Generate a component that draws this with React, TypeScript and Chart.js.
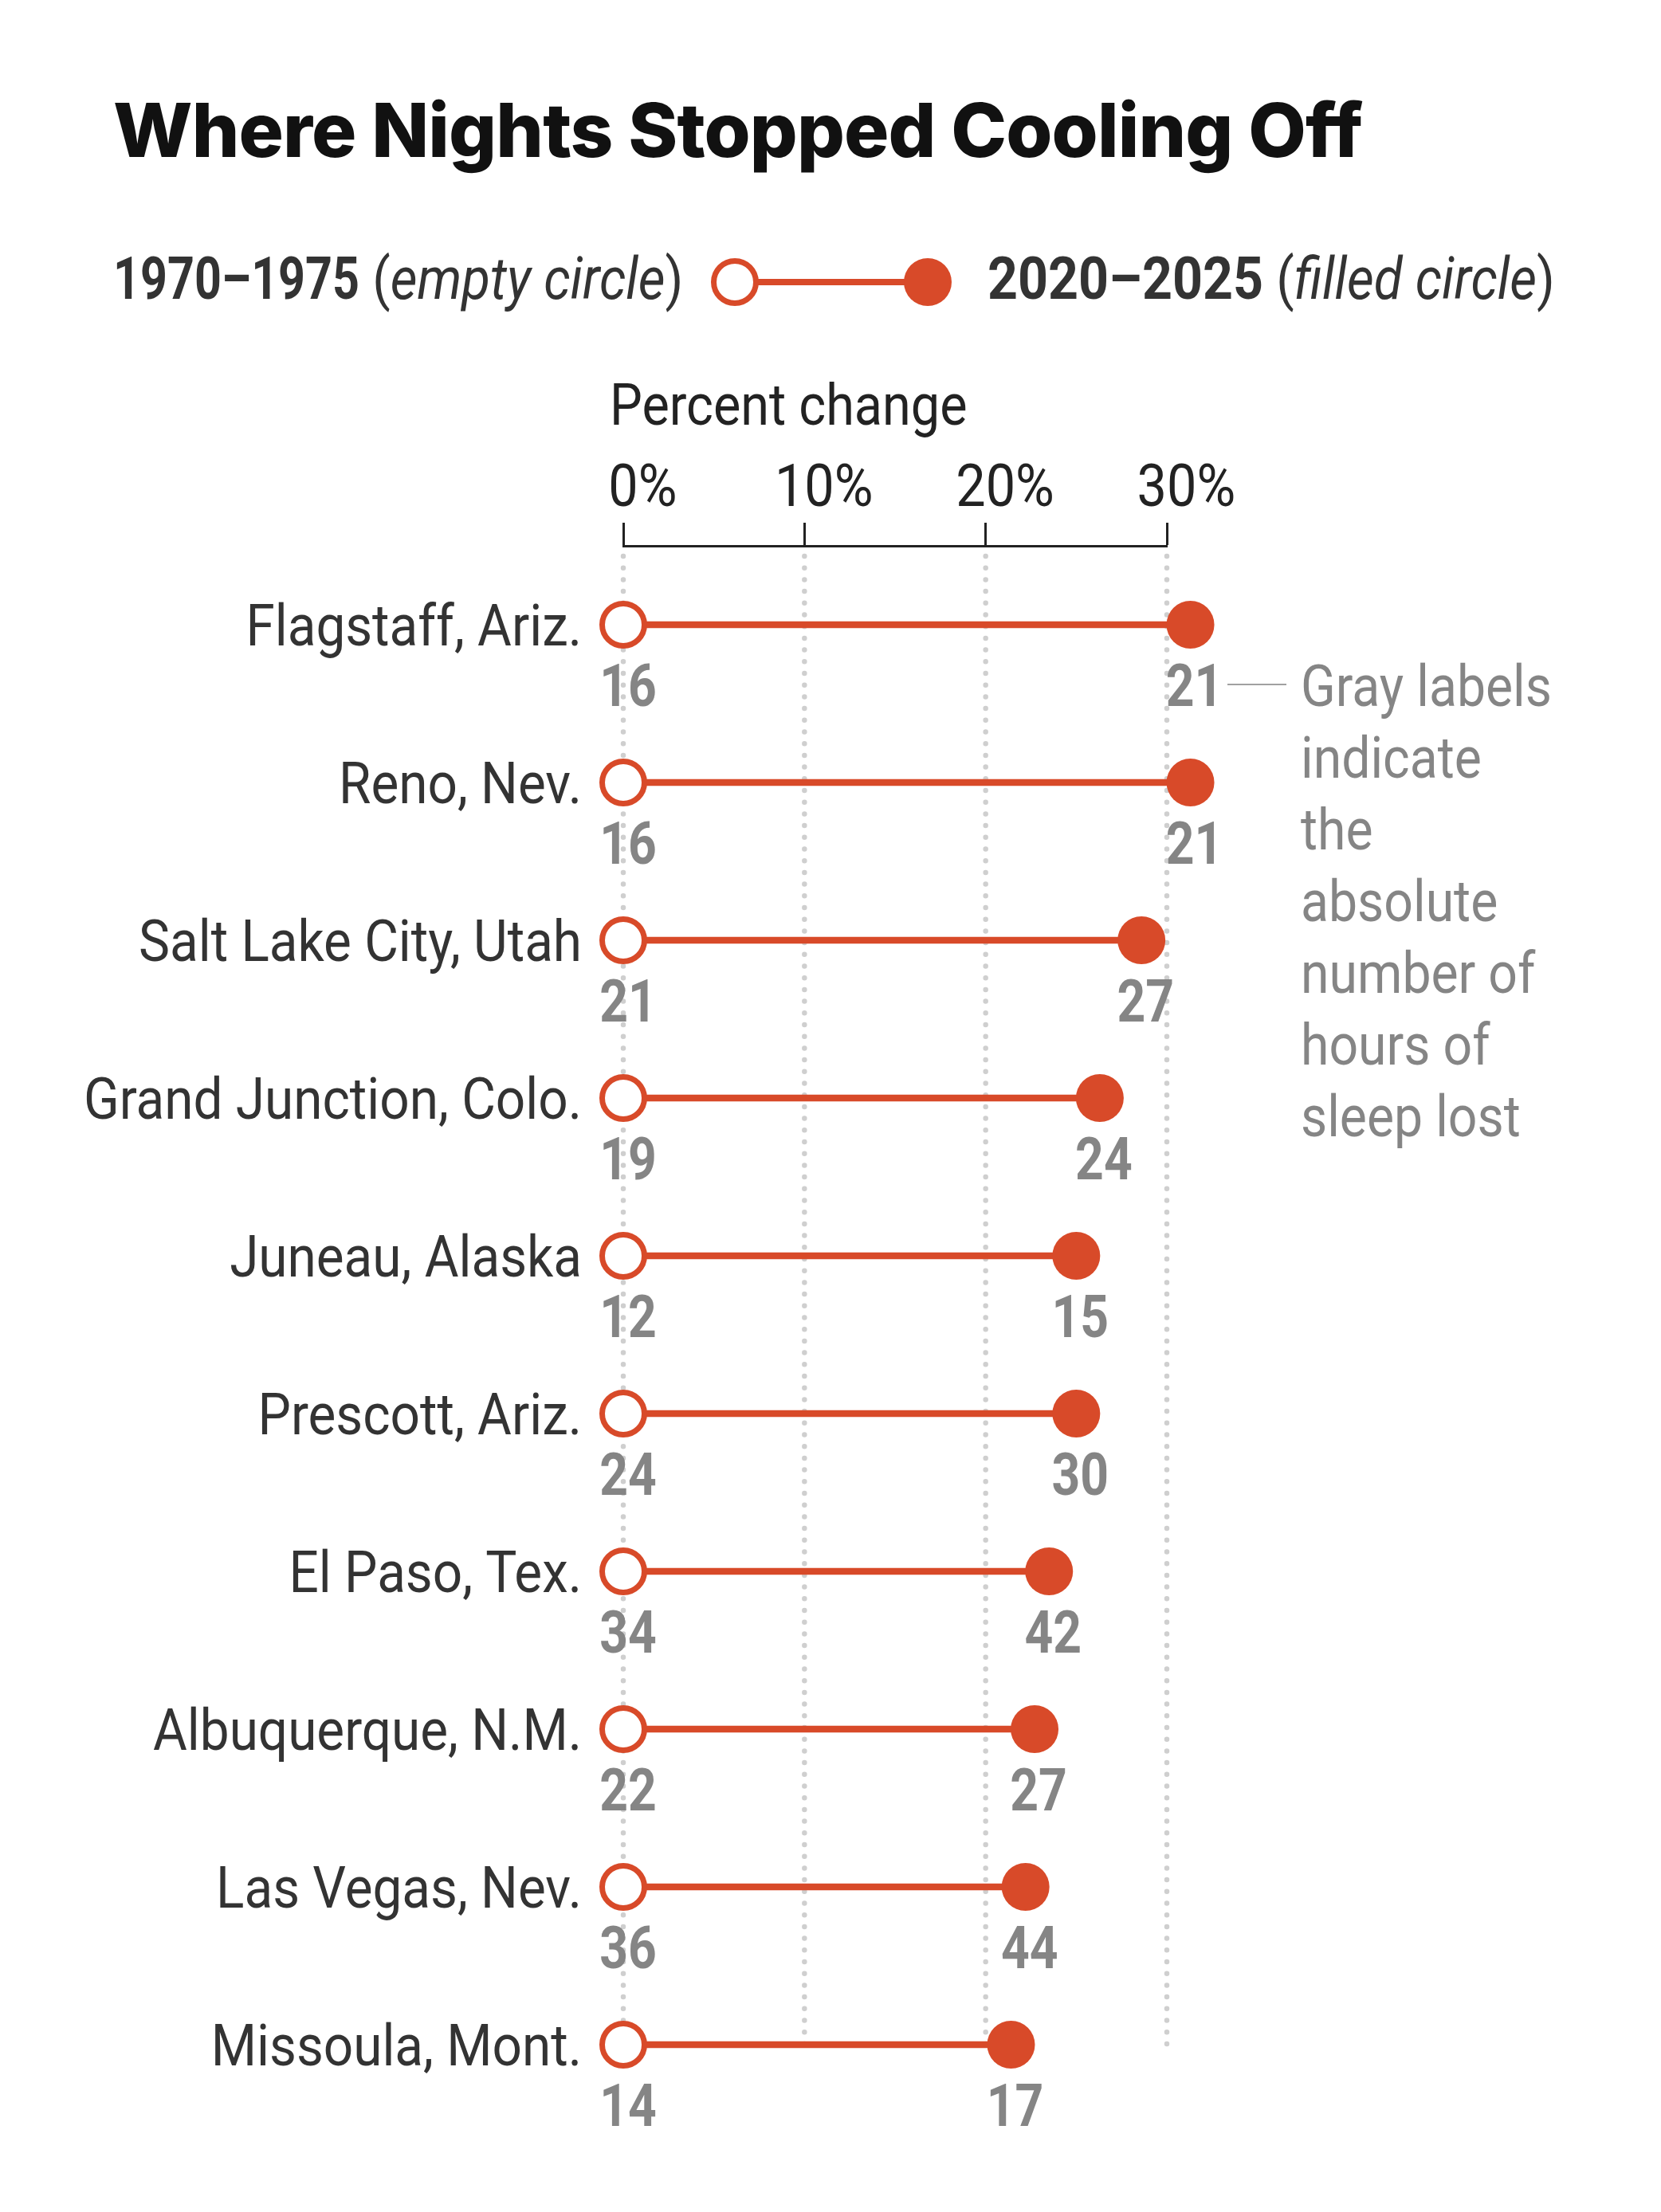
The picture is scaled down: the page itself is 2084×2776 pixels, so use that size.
import { useEffect, useRef } from 'react';
import { Chart, registerables } from 'chart.js';

Chart.register(...registerables);

// Cities, ordered by the size of the change
const cities = [
  'Flagstaff, Ariz.',
  'Reno, Nev.',
  'Salt Lake City, Utah',
  'Grand Junction, Colo.',
  'Juneau, Alaska',
  'Prescott, Ariz.',
  'El Paso, Tex.',
  'Albuquerque, N.M.',
  'Las Vegas, Nev.',
  'Missoula, Mont.',
];

// Hours of sleep lost, 1970–1975 and 2020–2025
const hoursEarly = [16, 16, 21, 19, 12, 24, 34, 22, 36, 14];
const hoursRecent = [21, 21, 27, 24, 15, 30, 42, 27, 44, 17];

// Percent change (the 1970–1975 period is the 0% baseline)
const changeEarly = [0, 0, 0, 0, 0, 0, 0, 0, 0, 0];
const changeRecent = [31.3, 31.3, 28.6, 26.3, 25.0, 25.0, 23.5, 22.7, 22.2, 21.4];

const xTickValues = [0, 10, 20, 30];

const noteLines = ['Gray labels', 'indicate', 'the', 'absolute', 'number of', 'hours of', 'sleep lost'];

const ORANGE = '#d84a29';
const GRAY = '#858585';
const DOT = '#cfcfcf';
const DARK = '#333333';
const TEXT_FONT = "Roboto, 'Liberation Sans', sans-serif";
const TITLE_FONT = "Inter, 'Liberation Sans', sans-serif";

type TextOpts = {
  size: number;
  weight?: string;
  style?: string;
  color: string;
  align?: CanvasTextAlign;
  sx: number;
};

// Draws text squeezed horizontally to get a condensed face; returns drawn width
function drawText(ctx: CanvasRenderingContext2D, text: string, x: number, y: number, o: TextOpts) {
  ctx.save();
  ctx.font = `${o.style || 'normal'} ${o.weight || 'normal'} ${o.size}px ${TEXT_FONT}`;
  ctx.fillStyle = o.color;
  ctx.textAlign = o.align || 'left';
  ctx.textBaseline = 'alphabetic';
  const w = ctx.measureText(text).width * o.sx;
  ctx.translate(x, y);
  ctx.scale(o.sx, 1);
  ctx.fillText(text, 0, 0);
  ctx.restore();
  return w;
}

function condenseFactor(ctx: CanvasRenderingContext2D, sample: string, target: number, font: string) {
  ctx.save();
  ctx.font = font;
  const w = ctx.measureText(sample).width;
  ctx.restore();
  return target / w;
}

const decorPlugin = {
  id: 'dumbbellDecor',
  beforeDatasetsDraw(chart: any) {
    const { ctx, chartArea } = chart;
    const xs = chart.scales.x;
    const ys = chart.scales.y;
    const bottom = ys.getPixelForValue(cities.length - 1);
    ctx.save();
    ctx.strokeStyle = DOT;
    ctx.lineWidth = 6.5;
    ctx.lineCap = 'round';
    ctx.setLineDash([0, 14.7]);
    for (const v of xTickValues) {
      const x = xs.getPixelForValue(v);
      ctx.beginPath();
      ctx.moveTo(x, chartArea.top + 13);
      ctx.lineTo(x, bottom);
      ctx.stroke();
    }
    ctx.restore();
  },
  afterDatasetsDraw(chart: any) {
    const { ctx, chartArea } = chart;
    const xs = chart.scales.x;
    const ys = chart.scales.y;

    const regSx = condenseFactor(ctx, 'Salt Lake City, Utah', 556, `normal normal 73px ${TEXT_FONT}`);
    const boldSx = condenseFactor(ctx, '1970–1975', 309, `normal bold 74px ${TEXT_FONT}`);
    const boldWideSx = condenseFactor(ctx, '2020–2025', 346, `normal bold 74px ${TEXT_FONT}`);

    // City names
    cities.forEach((c, i) => {
      drawText(ctx, c, chartArea.left - 52, ys.getPixelForValue(i) + 26, {
        size: 73, color: DARK, align: 'right', sx: regSx,
      });
    });

    // Axis tick labels: the number is centred on its tick, the % sign hangs right
    xs.ticks.forEach((t: any) => {
      const px = xs.getPixelForValue(t.value);
      ctx.save();
      ctx.font = `normal normal 74px ${TEXT_FONT}`;
      const nw = ctx.measureText(String(t.value)).width * regSx;
      ctx.restore();
      drawText(ctx, `${t.value}%`, px - nw / 2, 635, { size: 74, color: '#222222', sx: regSx });
    });

    // Axis caption
    drawText(ctx, 'Percent change', 765, 533, { size: 72, color: '#222222', sx: regSx });

    // Hour labels under each circle
    cities.forEach((_, i) => {
      const y = ys.getPixelForValue(i) + 102;
      drawText(ctx, String(hoursEarly[i]), xs.getPixelForValue(changeEarly[i]) + 6, y, {
        size: 75, weight: 'bold', color: GRAY, align: 'center', sx: boldSx * 1.04,
      });
      drawText(ctx, String(hoursRecent[i]), xs.getPixelForValue(changeRecent[i]) + 5, y, {
        size: 75, weight: 'bold', color: GRAY, align: 'center', sx: boldSx * 1.04,
      });
    });

    // Side note about the gray labels
    const firstBase = ys.getPixelForValue(0) + 102;
    noteLines.forEach((line, k) =>
      drawText(ctx, line, 1632, firstBase + k * 90, { size: 73, color: GRAY, sx: regSx * 0.98 }),
    );
    ctx.save();
    ctx.strokeStyle = '#a0a0a0';
    ctx.lineWidth = 2;
    ctx.beginPath();
    ctx.moveTo(1540, firstBase - 27);
    ctx.lineTo(1614, firstBase - 27);
    ctx.stroke();
    ctx.restore();

    // Title
    ctx.save();
    ctx.fillStyle = '#111111';
    ctx.font = `800 94px ${TITLE_FONT}`;
    const title = 'Where Nights Stopped Cooling Off';
    const w = ctx.measureText(title).width;
    (ctx as any).letterSpacing = `${(1568 - w) / (title.length - 1)}px`;
    ctx.fillText(title, 142, 197);
    ctx.restore();

    // Legend
    const ly = 354;
    const base = 375;
    let x = 142;
    x += drawText(ctx, '1970–1975', x, base, { size: 74, weight: 'bold', color: DARK, sx: boldSx });
    x += drawText(ctx, ' (', x, base, { size: 73, color: DARK, sx: regSx });
    x += drawText(ctx, 'empty circle', x, base, { size: 73, style: 'italic', color: DARK, sx: regSx });
    drawText(ctx, ')', x, base, { size: 73, color: DARK, sx: regSx });

    const c1 = 922;
    const c2 = 1164;
    ctx.save();
    ctx.strokeStyle = ORANGE;
    ctx.lineWidth = 8;
    ctx.beginPath();
    ctx.moveTo(c1, ly);
    ctx.lineTo(c2, ly);
    ctx.stroke();
    ctx.fillStyle = '#ffffff';
    ctx.lineWidth = 7;
    ctx.beginPath();
    ctx.arc(c1, ly, 26.5, 0, Math.PI * 2);
    ctx.fill();
    ctx.stroke();
    ctx.fillStyle = ORANGE;
    ctx.beginPath();
    ctx.arc(c2, ly, 30, 0, Math.PI * 2);
    ctx.fill();
    ctx.restore();

    x = 1239;
    x += drawText(ctx, '2020–2025', x, base, { size: 74, weight: 'bold', color: DARK, sx: boldWideSx });
    x += drawText(ctx, ' (', x, base, { size: 73, color: DARK, sx: regSx });
    x += drawText(ctx, 'filled circle', x, base, { size: 73, style: 'italic', color: DARK, sx: regSx });
    drawText(ctx, ')', x, base, { size: 73, color: DARK, sx: regSx });
  },
};

export default function App() {
  const canvasRef = useRef<HTMLCanvasElement | null>(null);

  useEffect(() => {
    document.body.style.margin = '0';
    const canvas = canvasRef.current;
    if (!canvas) return;

    const chart = new Chart(canvas, {
      type: 'bar',
      data: {
        labels: cities,
        datasets: [
          {
            type: 'line',
            label: '1970–1975',
            data: cities.map((c, i) => ({ x: changeEarly[i], y: c })),
            showLine: false,
            pointStyle: 'circle',
            pointRadius: 26.5,
            pointBorderWidth: 7,
            pointBackgroundColor: '#ffffff',
            pointBorderColor: ORANGE,
            clip: false,
            order: 1,
          } as any,
          {
            type: 'line',
            label: '2020–2025',
            data: cities.map((c, i) => ({ x: changeRecent[i], y: c })),
            showLine: false,
            pointStyle: 'circle',
            pointRadius: 30,
            pointBorderWidth: 0,
            pointBackgroundColor: ORANGE,
            pointBorderColor: ORANGE,
            clip: false,
            order: 2,
          } as any,
          {
            type: 'bar',
            label: 'change',
            data: cities.map((_, i) => [changeEarly[i], changeRecent[i]]),
            backgroundColor: ORANGE,
            barThickness: 8,
            borderWidth: 0,
            clip: false,
            order: 3,
          } as any,
        ],
      },
      options: {
        indexAxis: 'y',
        responsive: false,
        animation: false,
        devicePixelRatio: 1,
        layout: { padding: { left: 482, right: 620, top: 565, bottom: 111 } },
        plugins: {
          legend: { display: false },
          tooltip: { enabled: false },
          title: { display: false },
        },
        scales: {
          x: {
            type: 'linear',
            position: 'top',
            min: 0,
            max: 30,
            afterFit: (scale: any) => {
              scale.height = 120;
            },
            afterBuildTicks: (scale: any) => {
              scale.ticks = xTickValues.map((v) => ({ value: v }));
            },
            ticks: { display: false },
            grid: {
              drawOnChartArea: false,
              drawTicks: true,
              tickLength: 29,
              tickWidth: 3,
              tickColor: '#222222',
            },
            border: { display: true, color: '#222222', width: 3 },
          },
          y: {
            type: 'category',
            labels: cities,
            offset: true,
            afterFit: (scale: any) => {
              scale.width = 300;
            },
            ticks: { display: false },
            grid: { display: false, drawTicks: false },
            border: { display: false },
          },
        },
      },
      plugins: [decorPlugin],
    });

    return () => chart.destroy();
  }, []);

  return <canvas ref={canvasRef} width={2084} height={2776} style={{ display: 'block' }} />;
}
